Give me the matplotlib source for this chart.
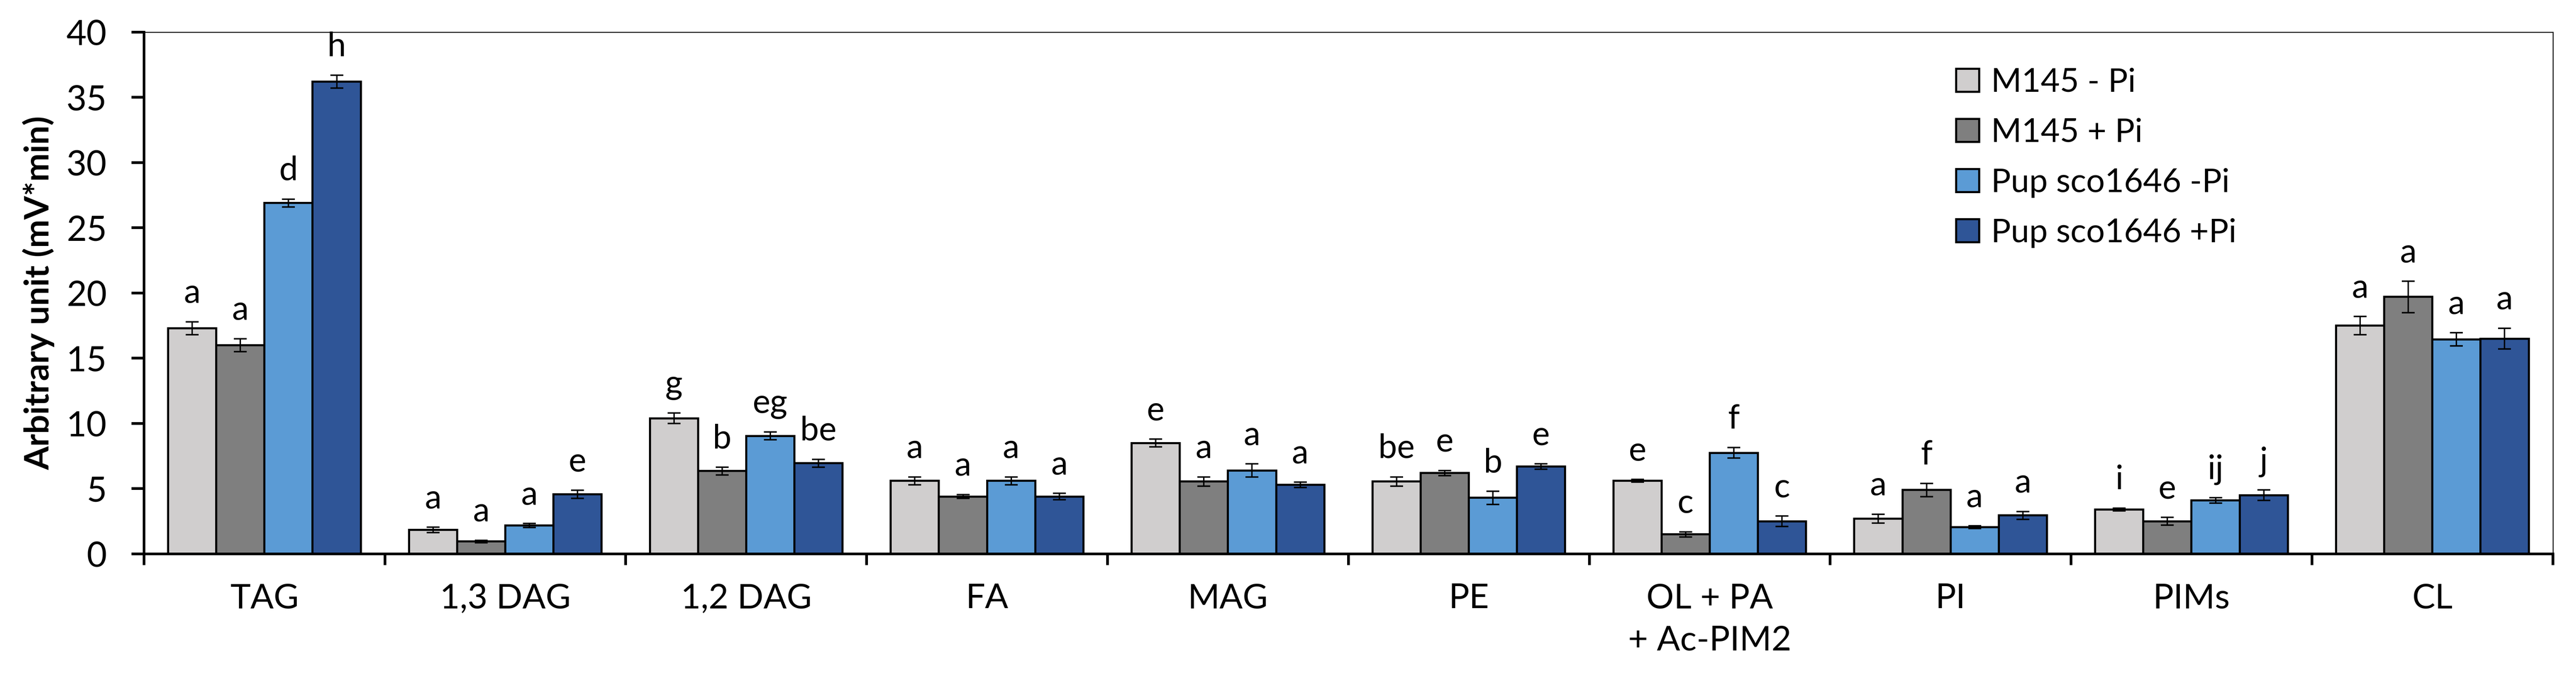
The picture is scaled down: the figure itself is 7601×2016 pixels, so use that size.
import numpy as np
import matplotlib
matplotlib.use('Agg')
import matplotlib.pyplot as plt

# ==========================
# DATA
# ==========================

categories = ['TAG', '1,3 DAG', '1,2 DAG', 'FA', 'MAG', 'PE',
              'OL + PA\n+ Ac-PIM2', 'PI', 'PIMs', 'CL']

series_names = ['M145 - Pi', 'M145 + Pi', 'Pup sco1646 -Pi', 'Pup sco1646 +Pi']

m145_minus = [17.3, 1.84, 10.4, 5.6, 8.5, 5.55, 5.6, 2.7, 3.4, 17.5]
m145_plus = [16.0, 0.95, 6.35, 4.4, 5.55, 6.2, 1.5, 4.9, 2.5, 19.7]
pup_minus = [26.9, 2.18, 9.05, 5.6, 6.4, 4.3, 7.75, 2.05, 4.1, 16.45]
pup_plus = [36.2, 4.57, 6.95, 4.4, 5.3, 6.7, 2.5, 2.95, 4.5, 16.5]

m145_minus_err = [0.5, 0.2, 0.4, 0.3, 0.3, 0.35, 0.1, 0.35, 0.1, 0.7]
m145_plus_err = [0.5, 0.1, 0.3, 0.15, 0.35, 0.2, 0.2, 0.5, 0.3, 1.2]
pup_minus_err = [0.3, 0.15, 0.3, 0.3, 0.5, 0.5, 0.4, 0.1, 0.2, 0.5]
pup_plus_err = [0.5, 0.3, 0.3, 0.25, 0.2, 0.2, 0.4, 0.3, 0.4, 0.8]

m145_minus_lbl = ['a', 'a', 'g', 'a', 'e', 'be', 'e', 'a', 'i', 'a']
m145_plus_lbl = ['a', 'a', 'b', 'a', 'a', 'e', 'c', 'f', 'e', 'a']
pup_minus_lbl = ['d', 'a', 'eg', 'a', 'a', 'b', 'f', 'a', 'ij', 'a']
pup_plus_lbl = ['h', 'e', 'be', 'a', 'a', 'e', 'c', 'a', 'j', 'a']

values = [m145_minus, m145_plus, pup_minus, pup_plus]
errors = [m145_minus_err, m145_plus_err, pup_minus_err, pup_plus_err]
letters = [m145_minus_lbl, m145_plus_lbl, pup_minus_lbl, pup_plus_lbl]
colors = ['#D0CECE', '#7F7F7F', '#5B9BD5', '#2F5597']

# ==========================
# BAR CHART
# ==========================

plt.rcParams['font.family'] = ['Lato', 'DejaVu Sans']

fig = plt.figure(figsize=(76.01, 20.16), dpi=100)
ax = fig.add_axes([0.0559, 0.189, 0.9351, 0.764])

x = np.arange(len(categories))
width = 0.2

for i in range(4):
    pos = x + (i - 1.5) * width
    ax.bar(
        pos,
        values[i],
        width,
        color=colors[i],
        edgecolor='black',
        linewidth=4.4,
        label=series_names[i],
        zorder=2
    )
    ax.errorbar(
        pos,
        values[i],
        yerr=errors[i],
        fmt='none',
        ecolor='black',
        elinewidth=3,
        capsize=13.7,
        capthick=3.2,
        zorder=3
    )
    for j in range(len(categories)):
        ax.text(
            pos[j],
            values[i][j] + errors[i][j] + 1.45,
            letters[i][j],
            ha='center',
            va='baseline',
            fontsize=71
        )

ax.set_xlim(-0.5, len(categories) - 0.5)
ax.set_ylim(0, 40)
ax.set_yticks(range(0, 41, 5))

ax.set_xticks(x)
ax.set_xticklabels(categories, fontsize=73, linespacing=1.45)
ax.set_xticks(np.arange(-0.5, len(categories), 1), minor=True)
ax.tick_params(axis='x', which='major', length=0, pad=62)
ax.tick_params(axis='x', which='minor', length=24, width=5.8)
ax.tick_params(axis='y', length=27, width=5.8, pad=52, labelsize=74)

for side in ['left', 'bottom']:
    ax.spines[side].set_linewidth(5.6)
for side in ['top', 'right']:
    ax.spines[side].set_linewidth(2)

ax.set_ylabel('Arbitrary unit (mV*min)', fontsize=72, fontweight='bold', labelpad=25)

fig.legend(
    loc='upper left',
    bbox_to_anchor=(0.7594, 0.901),
    frameon=False,
    fontsize=70,
    handlelength=0.7,
    handleheight=0.7,
    handletextpad=0.36,
    labelspacing=0.62,
    borderaxespad=0,
    borderpad=0
)

plt.savefig('out.png', dpi=100)
